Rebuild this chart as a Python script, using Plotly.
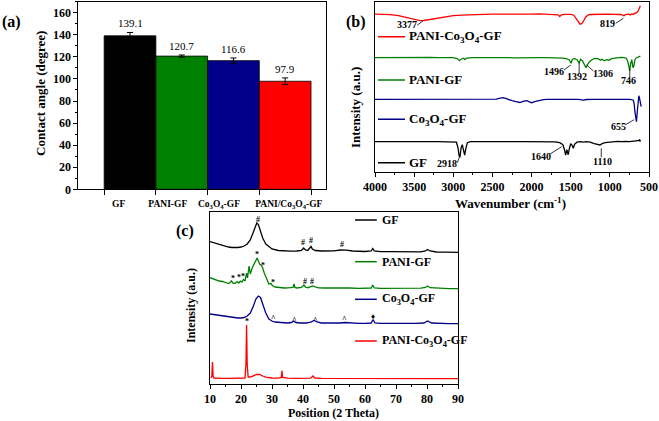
import plotly.graph_objects as go

W, H = 659, 421
FONT = "Liberation Serif"

# ---------------- (a) contact angle ----------------
samples_a = ["GF", "PANI-GF", "Co<sub>3</sub>O<sub>4</sub>-GF", "PANI/Co<sub>3</sub>O<sub>4</sub>-GF"]
contact_angle = [139.1, 120.7, 116.6, 97.9]
contact_err = [3.0, 1.0, 2.4, 3.0]
bar_colors = ["#000000", "#008000", "#00008B", "#FF0000"]

# ---------------- (b) FTIR (offset, a.u.) ----------------
ftir_names = ["PANI-Co<sub>3</sub>O<sub>4</sub>-GF", "PANI-GF", "Co<sub>3</sub>O<sub>4</sub>-GF", "GF"]
ftir_colors = ["#FF0000", "#008000", "#00008B", "#000000"]

ftir_wn_pcg = [4000, 3900, 3800, 3700, 3600, 3500, 3425, 3377, 3300, 3200, 3100, 3000, 2900, 2800, 2700,
               2600, 2500, 2400, 2350, 2300, 2200, 2100, 2000, 1900, 1800, 1700, 1660, 1640, 1620, 1580,
               1540, 1500, 1460, 1430, 1400, 1380, 1360, 1340, 1310, 1280, 1250, 1200, 1150, 1100, 1050,
               1000, 950, 900, 860, 830, 819, 800, 760, 740, 720, 700, 680, 660, 640, 630, 620, 610]
ftir_pcg = [157.5, 157.3, 157.0, 156.0, 154.0, 152.0, 151.0, 151.2, 152.3, 153.8, 155.0, 156.0, 156.5, 157.0, 157.2,
            157.4, 157.6, 157.5, 158.0, 157.5, 157.8, 157.2, 157.6, 157.8, 157.5, 157.6, 156.8, 155.2, 156.8, 157.4,
            157.7, 157.3, 156.5, 153.0, 149.0, 147.5, 148.0, 150.0, 154.5, 156.5, 157.2, 157.4, 157.6, 157.3, 157.5,
            157.6, 157.4, 157.6, 157.2, 156.3, 156.0, 157.0, 157.6, 156.8, 157.8, 157.5, 158.0, 159.0, 160.5, 163.0, 165.5, 166.0]

ftir_wn_pg = [4000, 3900, 3800, 3700, 3600, 3500, 3400, 3300, 3200, 3100, 3000, 2950, 2920, 2900, 2870, 2850,
              2830, 2750, 2600, 2500, 2400, 2300, 2200, 2100, 2000, 1900, 1800, 1700, 1650, 1600, 1560, 1520,
              1496, 1480, 1450, 1420, 1392, 1375, 1350, 1320, 1306, 1290, 1260, 1230, 1200, 1150, 1120, 1100,
              1070, 1040, 1010, 980, 950, 900, 860, 820, 790, 770, 755, 746, 735, 720, 705, 695, 680, 660,
              640, 620, 610]
ftir_pg = [114.0, 114.1, 113.9, 114.0, 114.1, 114.0, 114.1, 114.2, 114.0, 114.1, 114.0, 113.2, 111.0, 112.5, 113.5, 112.0,
           113.6, 114.0, 114.2, 114.0, 114.3, 114.0, 113.8, 114.1, 113.8, 114.0, 114.1, 114.0, 114.0, 113.6, 113.0, 112.0,
           108.5, 112.5, 113.0, 112.0, 108.5, 112.5, 111.0, 106.0, 104.0, 106.5, 110.0, 112.0, 113.0, 113.0, 111.5, 112.5,
           111.0, 112.0, 111.5, 113.0, 113.5, 114.0, 114.3, 114.0, 113.5, 110.0, 103.0, 101.0, 108.0, 112.0, 104.0, 105.0, 112.0, 114.0,
           114.5, 115.0, 115.5]

ftir_wn_cg = [4000, 3800, 3600, 3400, 3200, 3000, 2800, 2600, 2450, 2400, 2365, 2330, 2300, 2250, 2200, 2150,
              2100, 2060, 2020, 2000, 1960, 1900, 1850, 1800, 1700, 1600, 1500, 1400, 1340, 1300, 1200, 1100,
              1000, 900, 800, 740, 700, 690, 680, 670, 660, 650, 640, 630, 620, 610, 600]
ftir_cg = [72.4, 72.5, 72.4, 72.5, 72.4, 72.3, 72.4, 72.5, 72.6, 73.5, 74.0, 73.3, 72.3, 71.0, 70.0, 69.2,
           70.5, 71.0, 69.5, 69.0, 70.0, 71.5, 72.0, 72.3, 72.4, 72.2, 72.5, 72.3, 71.5, 72.2, 72.4, 72.3,
           72.5, 72.4, 72.4, 72.3, 71.5, 68.0, 60.0, 51.0, 50.0, 60.0, 72.0, 76.0, 73.0, 68.0, 65.0]

ftir_wn_g = [4000, 3900, 3800, 3700, 3600, 3500, 3400, 3300, 3200, 3100, 3000, 2960, 2940, 2925, 2914, 2900,
             2885, 2870, 2855, 2840, 2820, 2780, 2700, 2600, 2500, 2400, 2300, 2200, 2100, 2000, 1900, 1800,
             1700, 1640, 1600, 1580, 1565, 1550, 1532, 1515, 1500, 1480, 1467, 1450, 1420, 1380, 1340, 1300,
             1250, 1200, 1160, 1126, 1100, 1060, 1000, 950, 900, 850, 800, 750, 700, 660, 640, 620, 615, 610]
ftir_g = [30.0, 30.1, 29.9, 30.0, 30.1, 30.0, 30.0, 30.1, 30.0, 30.1, 29.9, 29.5, 24.0, 15.5, 15.0, 24.0,
          27.0, 22.0, 16.5, 23.0, 29.0, 30.0, 30.1, 30.0, 30.2, 30.0, 30.1, 30.0, 30.1, 30.0, 30.1, 30.0,
          29.8, 29.0, 27.0, 22.0, 16.5, 22.0, 17.0, 24.0, 28.0, 26.0, 23.5, 27.5, 29.5, 30.0, 29.5, 30.0,
          29.5, 28.0, 27.5, 26.7, 28.0, 29.0, 29.5, 30.0, 30.3, 30.0, 30.4, 30.0, 30.5, 30.3, 31.0, 32.0, 30.0, 31.5]

ftir_peak_labels = ["3377", "819", "1496", "1392", "1306", "746", "655", "2918", "1640", "1110"]

# ---------------- (c) XRD (offset, a.u.) ----------------
xrd_names = ["GF", "PANI-GF", "Co<sub>3</sub>O<sub>4</sub>-GF", "PANI-Co<sub>3</sub>O<sub>4</sub>-GF"]
xrd_colors = ["#000000", "#008000", "#00008B", "#FF0000"]

xrd_tt_g = [10, 11, 12, 13, 14, 15, 16, 17, 18, 19, 20, 21, 22, 23, 24, 24.6, 25.1, 25.6, 26.2, 27, 28, 29, 30,
            32, 34, 36, 38, 39.5, 40.2, 40.8, 41.5, 42.2, 42.6, 43.0, 44, 46, 48, 50, 52, 53, 54, 56, 58, 60,
            62, 62.5, 63, 65, 68, 70, 72, 75, 78, 79.5, 80.2, 81, 83, 86, 90]
xrd_g = [142.5, 141.5, 140.5, 139.5, 138.5, 137.5, 137.0, 136.5, 136.3, 136.5, 137.0, 138.0, 140.0, 144.0, 152.0,
         158.0, 161.0, 159.5, 154.0, 146.0, 140.0, 137.0, 135.0, 133.5, 133.0, 132.8, 133.0, 133.5, 136.0, 134.0,
         133.5, 135.5, 137.5, 135.0, 133.5, 133.0, 133.0, 133.2, 134.0, 134.2, 133.8, 133.0, 132.5, 132.5, 133.0,
         135.5, 133.0, 132.3, 132.3, 132.2, 132.3, 132.0, 132.2, 133.0, 134.5, 133.0, 132.0, 131.8, 131.7]

xrd_tt_pg = [10, 11, 12, 13, 14, 15, 16, 16.5, 16.9, 17.3, 18, 18.8, 19.3, 19.8, 20.3, 20.8, 21.3, 21.8, 22.1,
             22.6, 23.0, 23.6, 24.2, 24.8, 25.2, 25.6, 26.0, 26.6, 27, 27.5, 28, 28.5, 29, 29.7, 30.1, 31, 32,
             33, 34, 35, 36, 36.8, 37.1, 37.4, 38, 39.5, 40.3, 40.8, 41.5, 42.5, 43.2, 44, 45, 47, 50, 52, 53,
             55, 58, 60, 62, 62.5, 63, 65, 70, 75, 78, 79.5, 80.2, 81, 84, 87, 90]
xrd_pg = [106.3, 105.0, 104.0, 103.0, 102.5, 101.5, 100.5, 101.5, 103.5, 101.0, 100.5, 102.5, 101.0, 103.0, 102.0,
          104.5, 103.0, 111.0, 106.0, 118.0, 110.0, 116.0, 120.0, 124.0, 126.0, 123.0, 120.0, 118.5, 116.0, 111.0,
          107.0, 103.0, 100.0, 100.5, 98.5, 97.0, 96.5, 96.2, 96.0, 96.2, 96.0, 96.5, 100.0, 96.5, 96.0, 96.5,
          99.0, 97.0, 96.3, 97.0, 98.0, 97.0, 96.2, 96.0, 96.0, 96.3, 96.5, 96.0, 95.7, 95.7, 96.0, 99.0, 96.0,
          95.6, 95.6, 95.7, 95.8, 96.5, 98.0, 96.3, 95.5, 95.4, 95.3]

xrd_tt_cg = [10, 11, 12, 13, 14, 15, 16, 17, 18, 19, 20, 21, 22, 23, 24, 24.8, 25.6, 26.3, 27, 28, 29, 30, 31,
             33, 35, 36.3, 37.0, 37.7, 39, 41, 42.5, 43.6, 44.5, 46, 48, 50, 52, 53.5, 55, 58, 60, 62, 62.6,
             63.2, 65, 68, 70, 73, 76, 79, 80.2, 81.5, 84, 87, 90]
xrd_cg = [70.0, 69.5, 69.0, 68.6, 68.0, 67.8, 67.5, 67.0, 66.5, 66.0, 66.0, 66.5, 68.0, 71.0, 78.0, 85.0, 88.0,
          86.5, 80.0, 71.0, 65.0, 63.0, 62.0, 61.5, 61.0, 61.5, 63.0, 61.5, 61.0, 61.0, 61.8, 63.5, 62.0, 61.0,
          60.8, 60.8, 61.0, 61.5, 61.0, 60.7, 60.6, 61.0, 64.5, 61.0, 60.6, 60.5, 60.5, 60.5, 60.6, 61.0, 63.0,
          61.0, 60.4, 60.4, 60.3]

xrd_tt_pcg = [10.3, 10.6, 10.8, 11.0, 11.3, 12, 14, 16, 18, 20, 21.3, 21.6, 21.8, 22.0, 22.3, 23, 24, 25, 25.5,
              26, 27, 28, 30, 32, 33.0, 33.2, 33.4, 35, 38, 40, 42.5, 43.2, 43.8, 46, 50, 55, 60, 65, 70, 75,
              80, 85, 90]
xrd_pcg = [6.0, 8.0, 22.0, 8.0, 6.0, 5.8, 5.7, 5.7, 5.8, 5.8, 6.0, 20.0, 59.0, 20.0, 7.0, 7.0, 8.5, 9.5, 9.7,
           9.5, 8.0, 6.8, 6.0, 5.8, 6.5, 13.3, 6.5, 5.8, 5.6, 5.6, 5.8, 8.0, 6.0, 5.6, 5.5, 5.5, 5.4, 5.4, 5.4,
           5.4, 5.3, 5.3, 5.3]

# phase marks on XRD patterns: (2theta, offset level, symbol)
xrd_mark_tt = [25.4, 40.1, 42.6, 52.7, 25.1, 27.2, 17.5, 19.4, 20.7, 30.2, 40.6, 43.0, 30.4, 37.2, 43.9, 53.5, 62.5, 22.0]
xrd_mark_lv = [165, 141.7, 144, 139.7, 129.7, 119, 105.7, 106.3, 107.3, 101.7, 103, 102.3, 65.7, 64, 64, 64.7, 68, 63]
xrd_mark_sym = ["#", "#", "#", "#", "*", "*", "*", "*", "*", "*", "#", "#", "^", "^", "^", "^", "♦", "*"]

fig = go.Figure()

# ---- (a) bars
fig.add_trace(go.Bar(
    x=list(range(len(contact_angle))), y=contact_angle, width=1,
    marker=dict(color=bar_colors, line=dict(color="#000000", width=0.8)),
    error_y=dict(type="data", array=contact_err, color="#000000", thickness=1, width=3),
    xaxis="x", yaxis="y", showlegend=False, hoverinfo="skip"))

# ---- (b) FTIR
ftir_x = [ftir_wn_pcg, ftir_wn_pg, ftir_wn_cg, ftir_wn_g]
ftir_y = [ftir_pcg, ftir_pg, ftir_cg, ftir_g]
for xs, ys, c in zip(ftir_x, ftir_y, ftir_colors):
    fig.add_trace(go.Scatter(x=xs, y=ys, mode="lines", line=dict(color=c, width=1.3),
                             xaxis="x2", yaxis="y2", showlegend=False, hoverinfo="skip"))

# ---- (c) XRD
xrd_x = [xrd_tt_g, xrd_tt_pg, xrd_tt_cg, xrd_tt_pcg]
xrd_y = [xrd_g, xrd_pg, xrd_cg, xrd_pcg]
for xs, ys, c in zip(xrd_x, xrd_y, xrd_colors):
    fig.add_trace(go.Scatter(x=xs, y=ys, mode="lines", line=dict(color=c, width=1.3),
                             xaxis="x3", yaxis="y3", showlegend=False, hoverinfo="skip"))


def px(xp, yp):
    return xp / W, 1 - yp / H


ann = []
shapes = []

# value labels on bars
for i, (v, e) in enumerate(zip(contact_angle, contact_err)):
    ann.append(dict(x=i, y=v + e, xref="x", yref="y", text=f"{v}", showarrow=False,
                    yanchor="bottom", yshift=1, font=dict(size=11, family=FONT, color="#000")))

# FTIR peak label positions (text x, text y, leader x0, y0, x1, y1) in data units
ftir_lab_pos = [(3591, 146.7, 3460, 146.5, 3377, 151.5),
                (1024, 147.7, 925, 148.4, 828, 153.4),
                (1713, 100.0, 1586, 101.7, 1500, 106.7),
                (1424, 95.0, 1392, 98.5, 1392, 109.0),
                (1094, 98.4, 1211, 100.7, 1296, 106.7),
                (768, 91.0, 746, 94.5, 746, 103.0),
                (896, 45.0, 806, 46.7, 690, 52.0),
                (3074, 8.4, 2949, 9.0, 2914, 16.0),
                (1880, 15.7, 1765, 17.7, 1615, 25.0),
                (1100, 10.0, 1110, 14.4, 1110, 23.4)]
for lab, (tx, ty, x0, y0, x1, y1) in zip(ftir_peak_labels, ftir_lab_pos):
    ann.append(dict(x=tx, y=ty, xref="x2", yref="y2", text=f"<b>{lab}</b>", showarrow=False,
                    font=dict(size=10, family=FONT, color="#000")))
    shapes.append(dict(type="line", xref="x2", yref="y2", x0=x0, y0=y0, x1=x1, y1=y1,
                       line=dict(color="#000", width=0.8)))

# FTIR legend
ftir_leg_levels = [135.0, 91.7, 52.4, 9.0]
for name, c, lv in zip(ftir_names, ftir_colors, ftir_leg_levels):
    shapes.append(dict(type="line", xref="x2", yref="y2", x0=3962, x1=3617, y0=lv, y1=lv,
                       line=dict(color=c, width=1.5)))
    ann.append(dict(x=3590, y=lv, xref="x2", yref="y2", text=f"<b>{name}</b>", showarrow=False,
                    xanchor="left", font=dict(size=13, family=FONT, color="#000")))

# XRD legend
xrd_leg_levels = [164.0, 122.3, 84.7, 43.0]
for name, c, lv in zip(xrd_names, xrd_colors, xrd_leg_levels):
    shapes.append(dict(type="line", xref="x3", yref="y3", x0=56.8, x1=63.8, y0=lv, y1=lv,
                       line=dict(color=c, width=1.5)))
    ann.append(dict(x=64.8, y=lv, xref="x3", yref="y3", text=f"<b>{name}</b>", showarrow=False,
                    xanchor="left", font=dict(size=12, family=FONT, color="#000")))

# XRD phase marks
for t, lv, s in zip(xrd_mark_tt, xrd_mark_lv, xrd_mark_sym):
    ann.append(dict(x=t, y=lv, xref="x3", yref="y3", text=f"<b>{s}</b>", showarrow=False,
                    font=dict(size=8, family=FONT, color="#000")))

# panel letters and axis titles
for txt, (xp, yp), size, ang in [
    ("<b>(a)</b>", (11, 22), 16, 0),
    ("<b>(b)</b>", (356, 22), 16, 0),
    ("<b>(c)</b>", (185, 231), 16, 0),
    ("<b>Contact angle (degree)</b>", (41, 94), 13, -90),
    ("<b>Intensity (a.u.)</b>", (356, 107), 13, -90),
    ("<b>Intensity (a.u.)</b>", (191, 306), 12, -90),
    ("<b>Wavenumber (cm<sup>-1</sup>)</b>", (510, 203), 13, 0),
    ("<b>Position (2 Theta)</b>", (333, 413), 12, 0),
]:
    x, y = px(xp, yp)
    ann.append(dict(x=x, y=y, xref="paper", yref="paper", text=txt, showarrow=False, textangle=ang,
                    xanchor="center", yanchor="middle", font=dict(size=size, family=FONT, color="#000")))

frame = dict(showline=True, linecolor="#000", linewidth=1, mirror=True, zeroline=False, showgrid=False,
             automargin=False)

# category label positions as drawn in the source figure (slightly off bar centres)
cat_label_pos = [-0.22, 0.73, 1.72, 3.07]

fig.update_layout(
    template="none",
    width=W, height=H, margin=dict(l=0, r=0, t=0, b=0, pad=0, autoexpand=False),
    paper_bgcolor="white", plot_bgcolor="white",
    font=dict(family=FONT, color="#000"),
    xaxis=dict(domain=[78.3 / W, 326 / W], range=[-1.0, 3.79], anchor="y",
               tickmode="array", tickvals=cat_label_pos, ticktext=samples_a, tickangle=0,
               ticks="", ticklabelstandoff=5, tickfont=dict(size=9.5, family=FONT, weight="bold"),
               minor=dict(tickmode="array", tickvals=[-0.5, 0.5, 1.5, 2.5, 3.5], ticks="outside",
                          ticklen=5, tickcolor="#000", showgrid=False), **frame),
    yaxis=dict(domain=[1 - 189.3 / H, 1 - 1.7 / H], range=[0, 170], anchor="x",
               tickmode="linear", dtick=20, tick0=0, ticks="outside", ticklen=4, tickcolor="#000",
               tickfont=dict(size=12, family=FONT, weight="bold"),
               minor=dict(dtick=10, ticks="outside", ticklen=2, tickcolor="#000", showgrid=False), **frame),
    xaxis2=dict(domain=[375 / W, 649 / W], range=[4000, 500], anchor="y2",
                tickmode="linear", dtick=500, tick0=500, ticks="outside", ticklen=4, tickcolor="#000",
                tickfont=dict(size=12, family=FONT, weight="bold"),
                minor=dict(dtick=250, ticks="outside", ticklen=2, tickcolor="#000", showgrid=False), **frame),
    yaxis2=dict(domain=[1 - 171.7 / H, 1 - 1.7 / H], range=[0, 170], anchor="x2",
                showticklabels=False, ticks="", **frame),
    xaxis3=dict(domain=[210 / W, 458 / W], range=[10, 90], anchor="y3",
                tickmode="linear", dtick=10, tick0=10, ticks="outside", ticklen=4, tickcolor="#000",
                tickfont=dict(size=12, family=FONT, weight="bold"),
                minor=dict(dtick=5, ticks="outside", ticklen=2, tickcolor="#000", showgrid=False), **frame),
    yaxis3=dict(domain=[1 - 384 / H, 1 - 212 / H], range=[0, 172], anchor="x3",
                showticklabels=False, ticks="", **frame),
    annotations=ann, shapes=shapes,
)

fig.write_html("out.html", post_script="document.body.style.margin='0';document.body.style.overflow='hidden';")
